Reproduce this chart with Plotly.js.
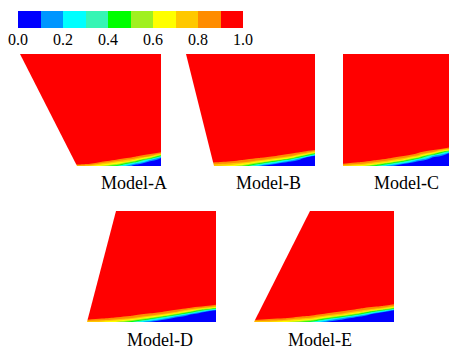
<!DOCTYPE html>
<html>
<head>
<meta charset="utf-8">
<script src="https://cdn.plot.ly/plotly-3.0.1.min.js"></script>
<style>html,body{margin:0;padding:0;background:#fff;}#chart{width:449px;height:350px;}</style>
</head>
<body>
<div id="chart"></div>
<script>
// ---------- colour scale (10 discrete bands, 0.0 .. 1.0) ----------
const bandColors = ['#0000ff','#0096ff','#00ffff','#36f5b4','#00ff00','#a0f020','#ffff00','#ffc800','#ff8c00','#ff0000'];
const cbEdges = [0,0.1,0.2,0.3,0.4,0.5,0.6,0.7,0.8,0.9,1.0];
const cbTickVals = [0,0.2,0.4,0.6,0.8,1.0];
const cbTickText = ['0.0','0.2','0.4','0.6','0.8','1.0'];

const modelNames = ['Model-A','Model-B','Model-C','Model-D','Model-E'];

// ---------- field data: x stations, heights above wall, profiles per station ----------
const xA = [0,57,70,85,100,115,130,141];
const tA = [0,2,4,6,8,10,12,14,17,112];
const colsA = [
  [0.75,0.95,1,1,1,1,1,1,1,1],
  [0.75,0.95,1,1,1,1,1,1,1,1],
  [0.7,0.88,1,1,1,1,1,1,1,1],
  [0.55,0.72,0.86,0.97,1,1,1,1,1,1],
  [0.3,0.55,0.72,0.86,0.95,1,1,1,1,1],
  [0.03,0.15,0.45,0.68,0.84,0.93,1,1,1,1],
  [0,0,0.03,0.2,0.55,0.8,0.91,1,1,1],
  [0,0,0,0.02,0.08,0.4,0.75,0.92,1,1]
];

const xB = [0,28,45,60,75,90,105,118,129];
const tB = [0,2,4,6,8,10,12,14,16,19,112];
const colsB = [
  [0.72,0.82,0.92,1,1,1,1,1,1,1,1],
  [0.72,0.82,0.92,1,1,1,1,1,1,1,1],
  [0.65,0.76,0.87,0.95,1,1,1,1,1,1,1],
  [0.45,0.65,0.8,0.88,0.95,1,1,1,1,1,1],
  [0.1,0.35,0.62,0.8,0.89,0.96,1,1,1,1,1],
  [0,0.08,0.3,0.62,0.8,0.9,0.97,1,1,1,1],
  [0,0,0.05,0.25,0.6,0.8,0.89,0.96,1,1,1],
  [0,0,0,0,0.1,0.45,0.75,0.88,0.95,1,1],
  [0,0,0,0,0,0.06,0.4,0.75,0.9,1,1]
];

const xC = [0,15,30,45,60,75,90,106];
const tC = [0,2,4,6,8,10,12,14,16,18,21,112];
const colsC = [
  [0.72,0.88,1,1,1,1,1,1,1,1,1,1],
  [0.65,0.8,0.92,1,1,1,1,1,1,1,1,1],
  [0.45,0.68,0.83,0.92,1,1,1,1,1,1,1,1],
  [0.15,0.4,0.68,0.84,0.92,1,1,1,1,1,1,1],
  [0,0.1,0.35,0.65,0.82,0.91,1,1,1,1,1,1],
  [0,0,0.04,0.2,0.5,0.75,0.87,0.93,1,1,1,1],
  [0,0,0,0,0.05,0.2,0.55,0.8,0.91,1,1,1],
  [0,0,0,0,0,0,0.03,0.25,0.65,0.88,1,1]
];

const xD = [0,15,30,45,60,75,90,105,118,129];
const tD = [0,2,4,6,8,10,12,14,16,18,21,111];
const colsD = [
  [0.72,0.88,1,1,1,1,1,1,1,1,1,1],
  [0.68,0.82,0.93,1,1,1,1,1,1,1,1,1],
  [0.58,0.75,0.87,0.95,1,1,1,1,1,1,1,1],
  [0.4,0.62,0.8,0.89,0.96,1,1,1,1,1,1,1],
  [0.12,0.35,0.62,0.8,0.89,0.96,1,1,1,1,1,1],
  [0,0.1,0.3,0.6,0.8,0.9,0.97,1,1,1,1,1],
  [0,0,0.04,0.22,0.55,0.78,0.89,0.96,1,1,1,1],
  [0,0,0,0,0.12,0.45,0.72,0.88,0.95,1,1,1],
  [0,0,0,0,0,0.08,0.4,0.75,0.91,0.97,1,1],
  [0,0,0,0,0,0,0.12,0.55,0.82,0.94,1,1]
];

const xE = [0,15,30,45,60,75,90,105,120,130,140];
const tE = [0,2,4,6,8,10,12,14,16,18,21,111];
const colsE = [
  [0.75,0.9,1,1,1,1,1,1,1,1,1,1],
  [0.7,0.85,0.96,1,1,1,1,1,1,1,1,1],
  [0.62,0.8,0.92,1,1,1,1,1,1,1,1,1],
  [0.5,0.7,0.84,0.93,1,1,1,1,1,1,1,1],
  [0.3,0.55,0.75,0.87,0.94,1,1,1,1,1,1,1],
  [0.05,0.22,0.5,0.74,0.87,0.93,1,1,1,1,1,1],
  [0,0.04,0.18,0.5,0.75,0.87,0.93,1,1,1,1,1],
  [0,0,0.02,0.15,0.48,0.72,0.86,0.92,1,1,1,1],
  [0,0,0,0,0.06,0.35,0.68,0.86,0.93,1,1,1],
  [0,0,0,0,0,0.1,0.45,0.76,0.89,0.95,1,1],
  [0,0,0,0,0,0,0.12,0.55,0.8,0.91,1,1]
];

// ---------- layout geometry (pixels in the 449x350 figure) ----------
const W = 449, H = 350;
const panels = [
  {x: xA, t: tA, cols: colsA, box: [20,161,54,166], leftBottom: 57, leftTop: 0,  label: [134,183]},
  {x: xB, t: tB, cols: colsB, box: [186,315,54,166], leftBottom: 28, leftTop: 0, label: [268,183]},
  {x: xC, t: tC, cols: colsC, box: [343,449,54,166], leftBottom: 0, leftTop: 0,  label: [406,183]},
  {x: xD, t: tD, cols: colsD, box: [87,216,211,322], leftBottom: 0, leftTop: 29, label: [160,340]},
  {x: xE, t: tE, cols: colsE, box: [254,394,211,322], leftBottom: 0, leftTop: 56, label: [320,340]}
];
const cbBox = [18,243,11,28];
const serif = 'Times New Roman, Liberation Serif, serif';

const colorscale = bandColors.map((c, i) => [i / (bandColors.length - 1), c]);

const traces = [];
const layout = {
  width: W, height: H,
  margin: {l: 0, r: 0, t: 0, b: 0},
  paper_bgcolor: '#fff', plot_bgcolor: '#fff',
  showlegend: false,
  shapes: [], annotations: []
};

panels.forEach((p, i) => {
  const n = i + 1;
  const xa = 'xaxis' + (n === 1 ? '' : n), ya = 'yaxis' + (n === 1 ? '' : n);
  const xr = 'x' + (n === 1 ? '' : n), yr = 'y' + (n === 1 ? '' : n);
  const pw = p.box[1] - p.box[0], ph = p.box[3] - p.box[2];
  // transpose profiles into z[row][col]
  const z = p.t.map((_, r) => p.cols.map(col => col[r]));
  traces.push({
    type: 'contour', x: p.x, y: p.t, z: z, xaxis: xr, yaxis: yr,
    autocontour: false,
    contours: {start: 0.1, end: 0.9, size: 0.1, coloring: 'fill', showlines: false},
    line: {width: 0, smoothing: 1.3},
    colorscale: colorscale, showscale: false, hoverinfo: 'skip'
  });
  layout[xa] = {domain: [p.box[0] / W, p.box[1] / W], range: [0, pw], visible: false, fixedrange: true, anchor: yr};
  layout[ya] = {domain: [1 - p.box[3] / H, 1 - p.box[2] / H], range: [0, ph], visible: false, fixedrange: true, anchor: xr};
  // white mask left of the slanted inlet edge
  if (p.leftBottom !== p.leftTop) {
    const e = 3, d = (p.leftTop - p.leftBottom) * e / ph;
    const path = `M ${-e} ${-e} L ${p.leftBottom - d} ${-e} L ${p.leftTop + d} ${ph + e} L ${-e} ${ph + e} Z`;
    layout.shapes.push({type: 'path', xref: xr, yref: yr, path: path, fillcolor: '#fff', line: {width: 0}, layer: 'above'});
  }
  layout.annotations.push({
    text: modelNames[i], xref: 'paper', yref: 'paper',
    x: p.label[0] / W, y: 1 - p.label[1] / H, xanchor: 'center', yanchor: 'middle',
    showarrow: false, font: {family: serif, size: 18, color: '#000'}
  });
});

// colour bar as a heatmap on its own axis
traces.push({
  type: 'heatmap', x: cbEdges, y: [0, 1], z: [bandColors.map((_, i) => i)],
  zmin: 0, zmax: bandColors.length - 1, colorscale: colorscale, showscale: false,
  xaxis: 'x6', yaxis: 'y6', hoverinfo: 'skip'
});
layout.xaxis6 = {domain: [cbBox[0] / W, cbBox[1] / W], range: [0, 1], anchor: 'y6', fixedrange: true,
  tickvals: cbTickVals, ticktext: cbTickText, ticks: '', showgrid: false, zeroline: false, showline: false,
  tickfont: {family: serif, size: 16, color: '#000'}};
layout.yaxis6 = {domain: [1 - cbBox[3] / H, 1 - cbBox[2] / H], range: [0, 1], visible: false, fixedrange: true, anchor: 'x6'};

Plotly.newPlot('chart', traces, layout, {staticPlot: true, displayModeBar: false});
</script>
</body>
</html>
